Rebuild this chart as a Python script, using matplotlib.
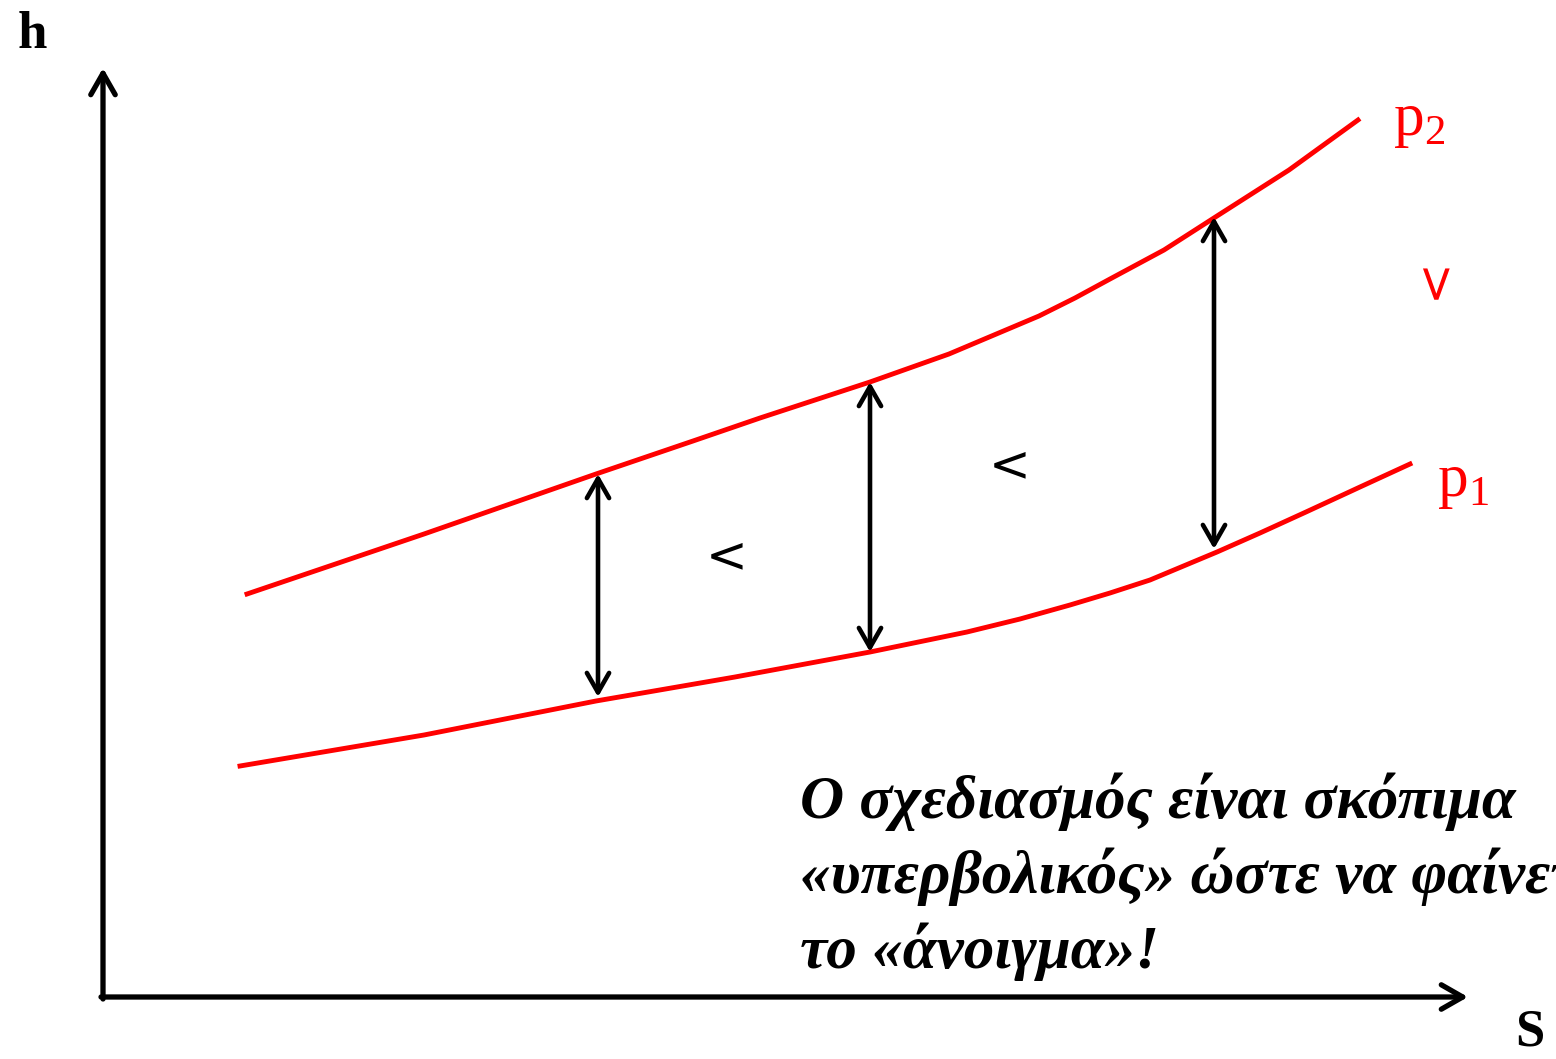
import matplotlib.pyplot as plt

plt.rcParams['mathtext.fontset'] = 'custom'
plt.rcParams['mathtext.rm'] = 'Liberation Serif'

# curve points (pixel space, y downwards)
p2_x = [247, 424, 596, 693, 760, 870, 949, 1039, 1075, 1110, 1164, 1217, 1289, 1358]
p2_y = [594, 534, 474, 441, 418, 382, 354, 316, 298, 279, 250, 216, 170, 120]
p1_x = [240, 424, 596, 735, 870, 967, 1020, 1070, 1110, 1150, 1217, 1260, 1306, 1360, 1410]
p1_y = [766, 735, 701, 677, 652, 632, 619, 605, 593, 580, 552, 533, 512, 487, 464]

# vertical double arrows: x, top, bottom
gap_x = [598, 870, 1214]
gap_top = [474, 382, 217]
gap_bot = [697, 652, 549]

note_lines = ["Ο σχεδιασμός είναι σκόπιμα",
              "«υπερβολικός» ώστε να φαίνεται",
              "το «άνοιγμα»!"]
note_base = [818, 893, 968]

fig = plt.figure(figsize=(15.56, 10.59), dpi=100)
ax = fig.add_axes([0, 0, 1, 1])
ax.set_xlim(0, 1556)
ax.set_ylim(1059, 0)
ax.axis('off')

# axes with arrows
ax.annotate('', xy=(103, 68), xytext=(103, 999),
            arrowprops=dict(arrowstyle='->,head_length=0.7,head_width=0.4',
                            lw=3.8, color='black', mutation_scale=22,
                            shrinkA=0, shrinkB=0))
ax.annotate('', xy=(1468, 997), xytext=(101, 997),
            arrowprops=dict(arrowstyle='->,head_length=0.7,head_width=0.4',
                            lw=3.8, color='black', mutation_scale=22,
                            shrinkA=0, shrinkB=0))

ax.text(32, 35, 'h', fontsize=38, fontweight='bold', family='Liberation Serif',
        ha='center', va='center')
ax.text(1530, 1033, 'S', fontsize=38, fontweight='bold', family='Liberation Serif',
        ha='center', va='center')

# isobars
ax.plot(p2_x, p2_y, color='red', lw=3.5, solid_joinstyle='round')
ax.plot(p1_x, p1_y, color='red', lw=3.5, solid_joinstyle='round')
ax.text(1393, 122, r'p$_2$', color='red', fontsize=44, family='Liberation Serif',
        ha='left', va='center')
ax.text(1437, 483, r'p$_1$', color='red', fontsize=44, family='Liberation Serif',
        ha='left', va='center')

for x, t, b in zip(gap_x, gap_top, gap_bot):
    ax.annotate('', xy=(x, b), xytext=(x, t),
                arrowprops=dict(arrowstyle='<->,head_length=0.7,head_width=0.4',
                                lw=3.3, color='black', mutation_scale=20,
                                shrinkA=0, shrinkB=0))

ax.text(727, 557, '<', fontsize=36, family='DejaVu Sans', ha='center', va='center')
ax.text(1010, 466, '<', fontsize=36, family='DejaVu Sans', ha='center', va='center')
ax.text(1433, 278, '<', fontsize=36, family='DejaVu Sans', color='red',
        rotation=90, ha='center', va='center')

# the second line runs past the right edge, as in the original slide
for line, yb in zip(note_lines, note_base):
    ax.text(800, yb, line, fontsize=44, fontweight='bold', fontstyle='italic',
            family='Liberation Serif', ha='left', va='baseline')

fig.savefig('out.png', dpi=100)
